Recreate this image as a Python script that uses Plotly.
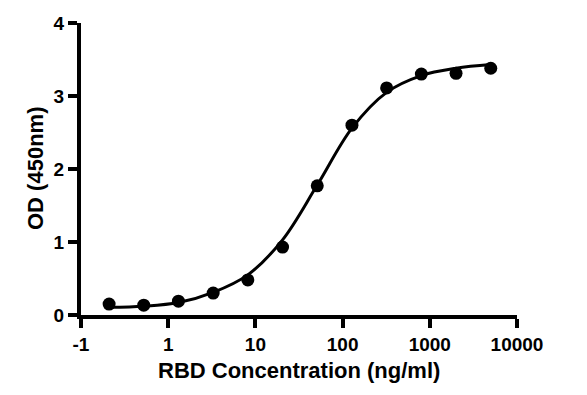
import plotly.graph_objects as go

# Measured data (RBD concentration in ng/ml, OD at 450 nm)
conc = [0.21, 0.524, 1.31, 3.28, 8.19, 20.48, 51.2, 128, 320, 800, 2000, 5000]
od = [0.15, 0.135, 0.19, 0.30, 0.48, 0.93, 1.77, 2.60, 3.11, 3.30, 3.31, 3.38]

# Fitted curve
curve_x = [0.21, 0.524, 1.31, 3.28, 8.19, 20.48, 51.2, 128, 320, 800, 2000, 5000]
curve_y = [0.105, 0.12, 0.17, 0.31, 0.55, 1.03, 1.78, 2.56, 3.05, 3.28, 3.38, 3.43]

x_tickvals = [0.1, 1, 10, 100, 1000, 10000]
x_ticktext = ["-1", "1", "10", "100", "1000", "10000"]
y_tickvals = [0, 1, 2, 3, 4]
y_ticktext = ["0", "1", "2", "3", "4"]

x_title = "RBD Concentration (ng/ml)"
y_title = "OD (450nm)"

FONT = "Arial, 'Liberation Sans', sans-serif"

fig = go.Figure()
fig.add_trace(go.Scatter(x=curve_x, y=curve_y, mode="lines",
                         line=dict(color="black", width=3, shape="spline", smoothing=1.0),
                         hoverinfo="skip", showlegend=False))
fig.add_trace(go.Scatter(x=conc, y=od, mode="markers",
                         marker=dict(color="black", size=13, symbol="circle"),
                         cliponaxis=False, showlegend=False))

# the page body has an 8px margin, so the figure is laid out 8px smaller
fig.update_layout(
    width=579, height=387,
    margin=dict(l=73, r=70, t=15, b=80, autoexpand=False),
    paper_bgcolor="white", plot_bgcolor="white",
    font=dict(family=FONT, color="black"),
    annotations=[
        dict(text="<b>" + x_title + "</b>", xref="paper", yref="paper",
             x=0.5, y=0, yshift=-55, xanchor="center", yanchor="middle",
             showarrow=False, font=dict(size=22, family=FONT, color="black")),
        dict(text="<b>" + y_title + "</b>", xref="paper", yref="paper",
             x=0, y=0.5, xshift=-46, xanchor="center", yanchor="middle",
             textangle=-90, showarrow=False,
             font=dict(size=22, family=FONT, color="black")),
    ],
)
fig.update_xaxes(
    type="log", range=[-1, 4], automargin=False,
    tickvals=x_tickvals, ticktext=["<b>" + t + "</b>" for t in x_ticktext],
    showline=True, linecolor="black", linewidth=4,
    ticks="outside", ticklen=9, tickwidth=3.5, tickcolor="black",
    showgrid=False, zeroline=False,
    tickfont=dict(size=19, family=FONT, color="black"),
)
fig.update_yaxes(
    range=[0, 4], automargin=False,
    tickvals=y_tickvals, ticktext=["<b>" + t + "</b>" for t in y_ticktext],
    showline=True, linecolor="black", linewidth=4,
    ticks="outside", ticklen=9, tickwidth=3.5, tickcolor="black",
    showgrid=False, zeroline=False,
    tickfont=dict(size=19, family=FONT, color="black"),
)

fig.write_html("out.html")
